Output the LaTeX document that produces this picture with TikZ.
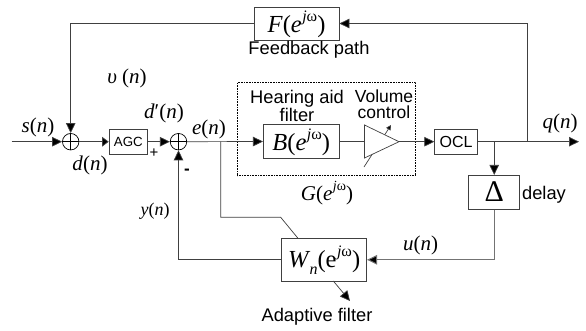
\documentclass[tikz,border=0pt]{standalone}
\usepackage{fontspec}
\setmainfont{Liberation Serif}
\setsansfont{Liberation Sans}
\usetikzlibrary{arrows.meta}
\tikzset{
  x=1pt,y=-1pt,
  wire/.style={draw=black!75,line width=0.7pt},
  arr/.style={wire,-{Triangle[length=10pt,width=9.5pt,fill=black]}},
  smallarr/.style={wire,-{Triangle[length=6.5pt,width=9.5pt,fill=black]}},
  block/.style={draw=black!75,line width=0.7pt,fill=white,inner sep=0pt,anchor=center},
  sumnode/.style={circle,draw=black,line width=0.7pt,fill=white,minimum size=16.5pt,inner sep=0pt},
  sflabel/.style={font=\sffamily\fontsize{18.3}{17}\selectfont,inner sep=0pt,align=center},
  mlabel/.style={font=\rmfamily\fontsize{21}{23}\selectfont,inner sep=0pt},
  blocktext/.style={font=\rmfamily\fontsize{24.5}{27}\selectfont,inner sep=0pt},
}
\newcommand{\jw}[1]{\raisebox{0.44em}{\fontsize{#1}{#1}\selectfont\kern0.5pt\textit{j}ω}}
\begin{document}
\begin{tikzpicture}
\useasboundingbox (0,0) rectangle (586,330);
\fill[white] (0,0) rectangle (586,330);
% dotted region
\node[draw=black,densely dotted,line width=0.6pt,minimum width=178.5pt,minimum height=93.5pt,inner sep=0pt] (gbox) at (326.5,129) {};
% blocks
\node[block,minimum width=85pt,minimum height=33pt] (fblock) at (296.5,23.5) {};
\node[block,minimum width=38.7pt,minimum height=25pt] (agc) at (128.4,141.7) {};
\node[block,minimum width=76pt,minimum height=34pt] (bblock) at (301.3,141.5) {};
\node[block,minimum width=42.6pt,minimum height=25pt] (ocl) at (456,141.7) {};
\node[block,minimum width=51pt,minimum height=34pt] (delta) at (494.2,192.3) {};
\node[block,minimum width=85pt,minimum height=42.3pt] (wblock) at (324.2,259.8) {};
\node[sumnode] (s1) at (70.7,141.7) {};
\node[sumnode] (s2) at (178.5,141.7) {};
\draw[black,line width=0.7pt] (s1.west)--(s1.east) (s1.north)--(s1.south);
\draw[black,line width=0.7pt] (s2.west)--(s2.east) (s2.north)--(s2.south);
% amplifier
\coordinate (ampA) at (364.5,125);
\coordinate (ampB) at (364.5,158);
\coordinate (ampC) at (399,141.7);
\coordinate (gainA) at (364,167);
\coordinate (gainB) at (391,125);
\draw[wire,-{Triangle[length=5pt,width=5pt,fill=black]}] (gainA)--(gainB);
\draw[wire,fill=white] (ampA)--(ampB)--(ampC)--cycle;
% junctions
\coordinate (eTap) at (220.7,141.7);
\coordinate (qTap) at (527.3,141.7);
\coordinate (dTap) at (494.2,141.7);
\coordinate (qEnd) at (579,141.7);
\coordinate (sStart) at (11.7,141.7);
\coordinate (vCorner) at (70.7,23.5);
\coordinate (qCorner) at (527.3,23.5);
\coordinate (eBend) at (220.7,217.3);
\coordinate (eBendB) at (280.7,217.3);
\coordinate (wDiagEnd) at (298.3,238.7);
\coordinate (yCorner) at (178.5,259.8);
\coordinate (uCorner) at (494.2,259.8);
\coordinate (wOutStart) at (333.3,281);
\coordinate (wOutEnd) at (350,301);
% connectors
\draw[arr] (sStart)--(s1.west);
\draw[smallarr] (s1.east)--(agc.west);
\draw[arr] (agc.east)--(s2.west);
\draw[arr] (s2.east)--(bblock.west);
\draw[wire] (bblock.east)--(ampA|-bblock.east);
\draw[arr] (ampC)--(ocl.west);
\draw[arr] (ocl.east)--(qEnd);
\draw[arr] (fblock.west)--(vCorner)--(s1.north);
\draw[arr] (qTap)--(qCorner)--(fblock.east);
\draw[arr] (dTap)--(delta.north);
\draw[arr,draw=black!55,line width=1pt] (delta.south)--(uCorner)--(wblock.east);
\draw[arr] (wblock.west)--(yCorner)--(s2.south);
\draw[wire] (eTap)--(eBend)--(eBendB)--(wDiagEnd);
\draw[arr] (wOutStart)--(wOutEnd);
% block text
\node[blocktext] (ft) at (296.5,24) {\textit{F}(\textit{e}\jw{16})};
\node[blocktext] (bt) at (301.3,142) {\textit{B}(\textit{e}\jw{16})};
\node[blocktext] (wt) at (324.2,260) {\textit{W}\raisebox{-0.28em}{\fontsize{16}{16}\selectfont\kern-1pt\textit{n}}(e\jw{16})};
\node[font=\rmfamily\fontsize{30}{32}\selectfont,inner sep=0pt] (dl) at (494.2,192) {Δ};
\node[font=\sffamily\fontsize{13.3}{14}\selectfont,inner sep=0pt] (agct) at (128.4,141.7) {AGC};
\node[font=\sffamily\fontsize{16}{17}\selectfont,inner sep=0pt] (oclt) at (456,141.7) {OCL};
% labels
\node[sflabel] (fp) at (309,50) {Feedback path};
\node[sflabel] (hf) at (297,105.5) {Hearing aid\\filter};
\node[sflabel,font=\sffamily\fontsize{17.5}{16}\selectfont] (vc) at (384,104.5) {Volume\\control};
\node[sflabel] (dt) at (544,195) {delay};
\node[sflabel] (af) at (317,317) {Adaptive filter};
\node[mlabel] (sl) at (38,127) {\textit{s}(\textit{n})};
\node[mlabel] (vl) at (127,78) {\textit{υ} (\textit{n})};
\node[mlabel] (dpl) at (164,113) {\textit{d}′(\textit{n})};
\node[mlabel] (el) at (209,129) {\textit{e}(\textit{n})};
\node[mlabel] (dl2) at (90,165) {\textit{d}(\textit{n})};
\node[mlabel] (ql) at (560,123) {\textit{q}(\textit{n})};
\node[mlabel] (gl) at (327,193) {\textit{G}(\textit{e}\jw{14})};
\node[mlabel] (ul) at (420.7,245) {\textit{u}(\textit{n})};
\node[mlabel,font=\rmfamily\fontsize{18}{20}\selectfont] (yl) at (155,211.5) {\textit{y}(\textit{n})};
\node[font=\sffamily\fontsize{15}{15}\selectfont,inner sep=0pt] (pl) at (154,153) {+};
\node[font=\sffamily\bfseries\fontsize{17}{17}\selectfont,inner sep=0pt] (ml) at (187,172) {-};
\end{tikzpicture}
\end{document}
